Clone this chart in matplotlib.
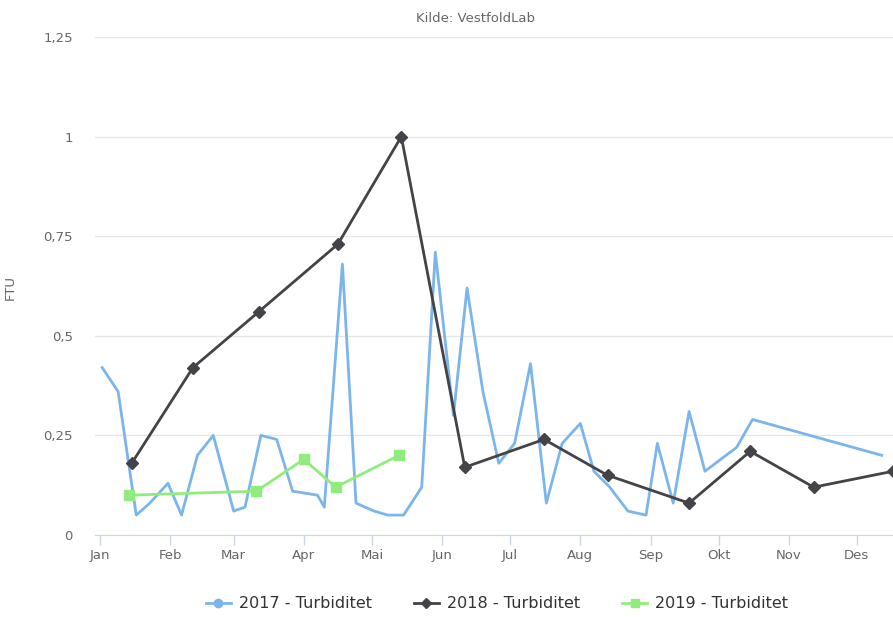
import matplotlib
matplotlib.use("Agg")
import matplotlib.pyplot as plt
from matplotlib.lines import Line2D
from matplotlib.ticker import FuncFormatter, FixedLocator

# day of year (0 = 1 Jan) and FTU values
days_2017 = [1, 8, 16, 22, 30, 36, 43, 50, 59, 64, 71, 78, 85, 96, 99, 107, 113, 121, 127, 134,
             142, 148, 156, 162, 169, 176, 183, 190, 197, 204, 212, 218, 225, 233, 241, 246,
             253, 260, 267, 281, 288, 345]
ftu_2017 = [0.42, 0.36, 0.05, 0.08, 0.13, 0.05, 0.20, 0.25, 0.06, 0.07, 0.25, 0.24, 0.11, 0.10,
            0.07, 0.68, 0.08, 0.06, 0.05, 0.05, 0.12, 0.71, 0.30, 0.62, 0.36, 0.18, 0.23, 0.43,
            0.08, 0.23, 0.28, 0.16, 0.12, 0.06, 0.05, 0.23, 0.08, 0.31, 0.16, 0.22, 0.29, 0.20]

days_2018 = [14, 41, 70, 105, 133, 161, 196, 224, 260, 287, 315, 350]
ftu_2018 = [0.18, 0.42, 0.56, 0.73, 1.0, 0.17, 0.24, 0.15, 0.08, 0.21, 0.12, 0.16]

days_2019 = [13, 69, 90, 104, 132]
ftu_2019 = [0.10, 0.11, 0.19, 0.12, 0.20]

months = ["Jan", "Feb", "Mar", "Apr", "Mai", "Jun", "Jul", "Aug", "Sep", "Okt", "Nov", "Des"]
month_start = [0, 31, 59, 90, 120, 151, 181, 212, 243, 273, 304, 334]
y_ticks = [0, 0.25, 0.5, 0.75, 1.0, 1.25]

fig = plt.figure(figsize=(8.93, 6.17), dpi=100)
ax = fig.add_axes([95 / 893, 1 - 535 / 617, 1 - 95 / 893, (535 - 37) / 617])

ax.plot(days_2017, ftu_2017, color="#7cb5ec", lw=2)
ax.plot(days_2018, ftu_2018, color="#434348", lw=2, marker="D", ms=6)
ax.plot(days_2019, ftu_2019, color="#90ed7d", lw=2, marker="s", ms=7)

ax.set_xlim(-2.2, 350)
ax.set_ylim(0, 1.25)
ax.xaxis.set_major_locator(FixedLocator(month_start))
ax.set_xticklabels(months)
ax.yaxis.set_major_locator(FixedLocator(y_ticks))
ax.yaxis.set_major_formatter(FuncFormatter(lambda v, p: ("%g" % v).replace(".", ",")))

ax.grid(axis="y", color="#e6e6e6", lw=1)
ax.set_axisbelow(True)
for s in ["top", "right", "left"]:
    ax.spines[s].set_visible(False)
ax.spines["bottom"].set_color("#ccd6eb")
ax.tick_params(axis="x", colors="#ccd6eb", length=7, width=1, pad=3, labelcolor="#666666", labelsize=9.5)
ax.tick_params(axis="y", length=0, pad=16, labelcolor="#666666", labelsize=9.5)
ax.set_ylabel("FTU", color="#666666", fontsize=9.5)
ax.yaxis.set_label_coords(-78 / 798, (535 - 288) / 498)

fig.text(475 / 893, 1 - 18 / 617, "Kilde: VestfoldLab", ha="center", va="center",
         color="#666666", fontsize=9.5)

handles = [
    Line2D([], [], color="#7cb5ec", lw=2, marker="o", ms=6),
    Line2D([], [], color="#434348", lw=2, marker="D", ms=5),
    Line2D([], [], color="#90ed7d", lw=2, marker="s", ms=6),
]
labels = ["2017 - Turbiditet", "2018 - Turbiditet", "2019 - Turbiditet"]
leg = fig.legend(handles, labels, loc="center", bbox_to_anchor=(497 / 893, 1 - 604 / 617), ncol=3,
                 frameon=False, fontsize=11.5, handlelength=1.6, columnspacing=2.6,
                 handletextpad=0.5, numpoints=1)
for t in leg.get_texts():
    t.set_color("#333333")

fig.savefig("out.png", dpi=100)
